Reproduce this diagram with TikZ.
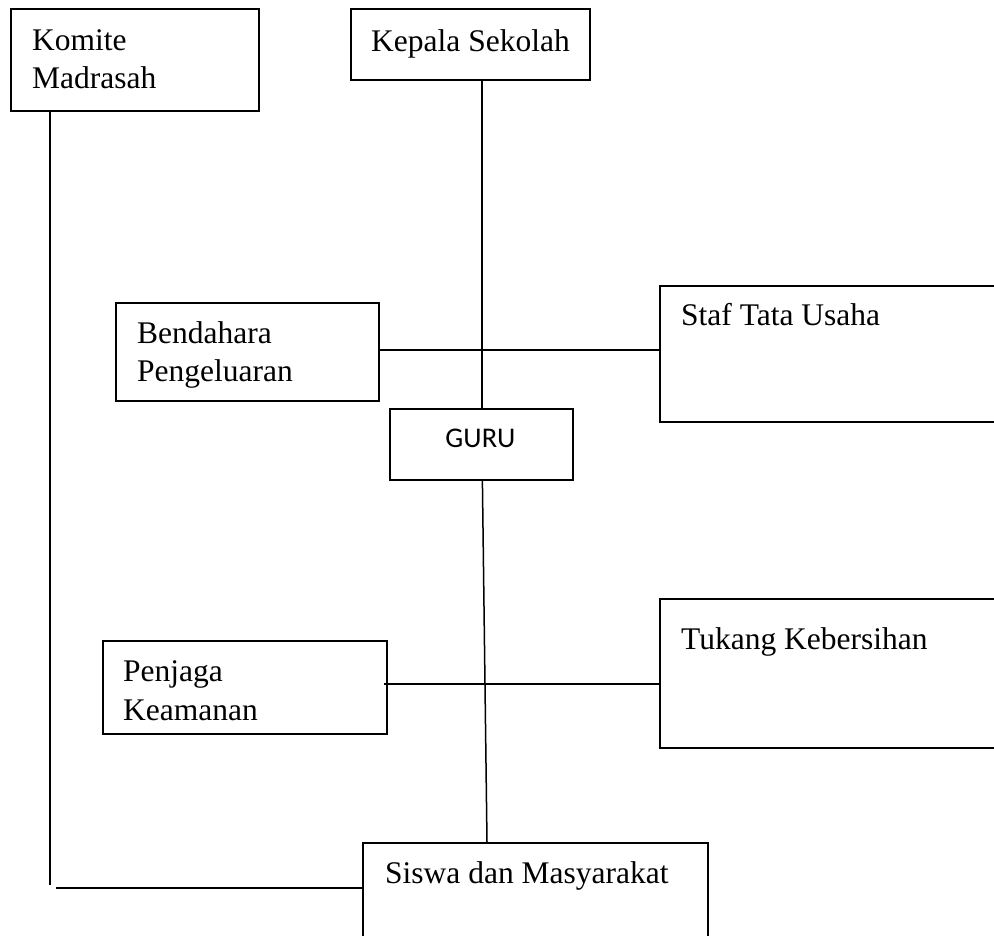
\documentclass[tikz,border=0pt]{standalone}
\usepackage{fontspec}
\setmainfont{Liberation Serif}
\newfontfamily\gurufont{Carlito}
\usetikzlibrary{calc}
\begin{document}
\begin{tikzpicture}[x=1pt,y=-1pt,
  orgbox/.style={draw, line width=1.8pt, inner sep=0pt, anchor=north west},
  lbl/.style={anchor=base west, inner sep=0pt, font=\fontsize{31.5}{38}\selectfont},
  conn/.style={draw, line width=1.5pt}]
\useasboundingbox (0,0) rectangle (994,936);
% boxes
\node[orgbox, minimum width=248pt, minimum height=102pt] (komite) at (10,8) {};
\node[orgbox, minimum width=239pt, minimum height=71pt] (kepala) at (350,8) {};
\node[orgbox, minimum width=263pt, minimum height=98pt] (bend) at (115,302) {};
\node[orgbox, minimum width=351pt, minimum height=136pt] (staf) at (659,285) {};
\node[orgbox, minimum width=183pt, minimum height=71pt] (guru) at (389,408) {};
\node[orgbox, minimum width=284pt, minimum height=93pt] (penjaga) at (102,640) {};
\node[orgbox, minimum width=351pt, minimum height=149pt] (tukang) at (659,598) {};
\node[orgbox, minimum width=345pt, minimum height=110pt] (siswa) at (362,842) {};
% texts
\node[lbl] (komiteA) at (32,51) {Komite};
\node[lbl] (komiteB) at (32,89) {Madrasah};
\node[lbl] (kepalaT) at (371,52) {Kepala Sekolah};
\node[lbl] (bendA) at (137,343) {Bendahara};
\node[lbl] (bendB) at (137,381) {Pengeluaran};
\node[lbl] (stafT) at (681,325) {Staf Tata Usaha};
\node[anchor=base, inner sep=0pt, font=\gurufont\fontsize{28.5}{34}\selectfont] (guruT) at (480.5,447) {GURU};
\node[lbl] (penjagaA) at (123,681) {Penjaga};
\node[lbl] (penjagaB) at (123,720) {Keamanan};
\node[lbl] (tukangT) at (681,649) {Tukang Kebersihan};
\node[lbl] (siswaT) at (385,883) {Siswa dan Masyarakat};
% connectors
\coordinate (gtop) at ($(guru.north)+(0.5,0)$);
\draw[conn] (gtop) -- (gtop |- kepala.south);
\draw[conn] ($(bend.east)+(0,-2)$) -- ($(bend.east -| staf.west)+(0,-2)$);
\draw[conn] ($(guru.south)+(1,0)$) -- ($(siswa.north west)+(125,0)$);
\draw[conn] ($(penjaga.east)+(-4,-3.5)$) -- ($(penjaga.east -| tukang.west)+(0,-3.5)$);
\coordinate (kbend) at (50,885);
\coordinate (kstart) at (56,888);
\draw[conn] ($(komite.south west)+(40,0)$) -- (kbend);
\draw[conn] (kstart) -- (kstart -| siswa.west);
\end{tikzpicture}
\end{document}
